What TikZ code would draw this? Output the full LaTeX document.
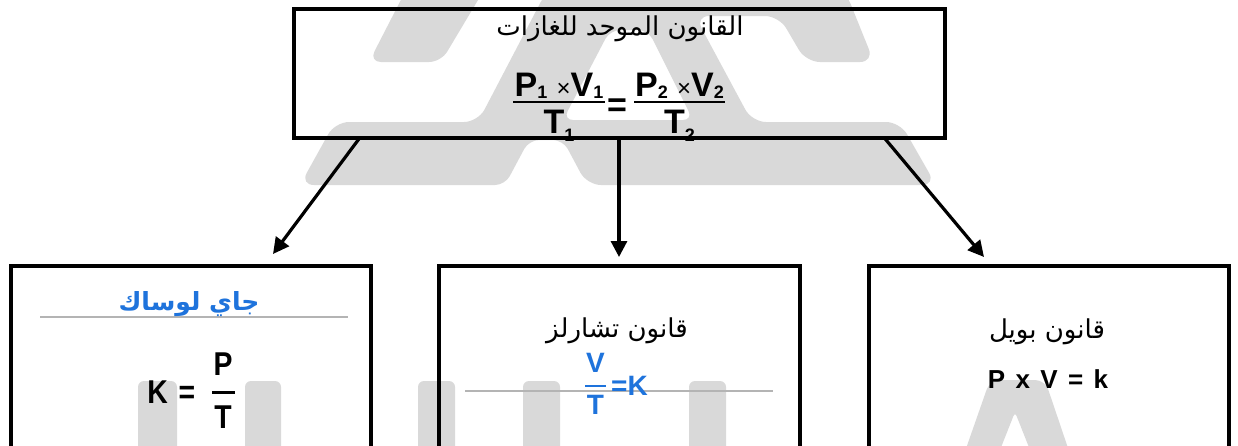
\documentclass[tikz,border=0pt]{standalone}
\usepackage{fontspec}
\usetikzlibrary{arrows.meta}
\TeXXeTstate=1
\newfontfamily\arabicfont[Script=Arabic]{DejaVu Sans}
\newfontfamily\lat{Liberation Sans}
\newfontfamily\latc[FakeStretch=0.86]{Liberation Sans}
\definecolor{wmgray}{RGB}{217,217,217}
\definecolor{blu}{RGB}{30,115,220}
\definecolor{rulegray}{RGB}{180,180,180}
\newcommand\sbs[2][18]{\raisebox{-2pt}{\fontsize{#1}{#1}\selectfont #2}}
\tikzset{
  box/.style={draw, line width=4pt, rectangle, inner sep=0pt, outer sep=0pt},
  arr/.style={line width=3.2pt, -{Triangle[length=16pt,width=16pt]}},
  wm/.style={fill=wmgray},
  artxt/.style={font=\arabicfont\fontsize{26}{30}\selectfont, anchor=base, inner sep=0pt},
  artb/.style={font=\arabicfont\bfseries\fontsize{25}{29}\selectfont, anchor=base, inner sep=0pt, text=blu},
  frac/.style={font=\lat\bfseries\fontsize{34}{38}\selectfont, anchor=base, inner sep=0pt},
  cond/.style={font=\latc\bfseries\fontsize{33}{36}\selectfont, anchor=base, inner sep=0pt},
  bluefr/.style={font=\lat\bfseries\fontsize{28}{32}\selectfont, anchor=base, inner sep=0pt, text=blu},
  fracbar/.style={line width=2.5pt},
  seprule/.style={line width=1.5pt, draw=rulegray}
}
\begin{document}
\begin{tikzpicture}[x=1pt,y=-1pt]
\useasboundingbox (0,0) rectangle (1238,445);
\clip (0,0) rectangle (1238,445);
\fill[white] (0,0) rectangle (1238,445);
% watermark
\fill[wm, rounded corners=12pt] (406,-10) -- (484,-10) -- (441,62) -- (369,62) -- cycle;
\fill[wm, even odd rule]
  [rounded corners=14pt] (547,-10) -- (845,-10) -- (874,62) -- (806,62) -- (779,16) -- (695,16) -- (752,122) -- (900,122) -- (936,185) -- (587,185)
  [rounded corners=10pt] -- (563,140) -- (529,140) -- (505,185)
  [rounded corners=14pt] -- (300,185) -- (335,122) -- (478,122) -- cycle
  [rounded corners=10pt] (563,120) -- (610,30) -- (648,30) -- (693,120) -- cycle;
\foreach \xa/\xb in {138/177, 245/281, 418/455, 523/560, 689/726}
  \fill[wm, rounded corners=6pt] (\xa,460) -- (\xa,381) -- (\xb,381) -- (\xb,460);
\fill[wm, rounded corners=10pt] (962,460) -- (990,380) -- (1045,380) -- (1072,460) -- (1034,460)
  [rounded corners=4pt] -- (1015,412) -- (996,460) -- cycle;
% boxes
\node[box, minimum width=651.5pt, minimum height=129pt] (top) at (619.25,73) {};
\node[box, minimum width=360.5pt, minimum height=200pt] (gay) at (190.75,365.5) {};
\node[box, minimum width=361.5pt, minimum height=200pt] (charles) at (619.25,365.5) {};
\node[box, minimum width=360pt, minimum height=200pt] (boyle) at (1049,365.5) {};
% top box content
\node[artxt] (title) at (620,35) {\beginR القانون الموحد للغازات\endR};
\node[frac] (num1) at (559,96) {P\sbs{1} {\mdseries\fontsize{24}{24}\selectfont ×}V\sbs{1}};
\node[frac] (den1) at (559,133) {T\sbs{\raisebox{-6pt}{1}}};
\node[frac] (eq) at (617,116) {=};
\node[frac] (num2) at (679.5,96) {P\sbs{2} {\mdseries\fontsize{24}{24}\selectfont ×}V\sbs{2}};
\node[frac] (den2) at (679.5,133) {T\sbs{\raisebox{-6pt}{2}}};
\coordinate (b1l) at (513,102); \coordinate (b1r) at (605,102);
\coordinate (b2l) at (634,102); \coordinate (b2r) at (725,102);
\draw[fracbar] (b1l) -- (b1r);
\draw[fracbar] (b2l) -- (b2r);
% arrows
\coordinate (s1) at (360,0); \coordinate (s2) at (619,0); \coordinate (s3) at (884,0);
\coordinate (t1) at (273,254); \coordinate (t2) at (619,257); \coordinate (t3) at (984,257);
\draw[arr] (top.south -| s1) -- (t1);
\draw[arr] (top.south -| s2) -- (t2);
\draw[arr] (top.south -| s3) -- (t3);
% left box: Gay-Lussac
\coordinate (r1l) at (40,317); \coordinate (r1r) at (348,317);
\draw[seprule] (r1l) -- (r1r);
\node[artb] (gayt) at (189,310) {\beginR جاي لوساك\endR};
\node[cond] (gk) at (157.5,403) {K};
\node[cond] (geq) at (187,403) {=};
\node[cond] (gp) at (223,375) {P};
\node[cond] (gt) at (223,428) {T};
\coordinate (g1) at (212,392); \coordinate (g2) at (235,392);
\draw[line width=3pt] (g1) -- (g2);
% middle box: Charles
\node[artxt] (chat) at (617,337) {\beginR قانون تشارلز\endR};
\coordinate (r2l) at (465,391); \coordinate (r2r) at (773,391);
\draw[seprule] (r2l) -- (r2r);
\node[bluefr] (cv) at (595.5,372) {V};
\node[bluefr] (ct) at (595.5,414) {T};
\coordinate (c1) at (585,386); \coordinate (c2) at (606,386);
\draw[line width=2.5pt, blu] (c1) -- (c2);
\node[bluefr, anchor=base west] (ck) at (611,395) {=K};
% right box: Boyle
\node[artxt] (boyt) at (1047,338) {\beginR قانون بويل\endR};
\node[font=\lat\bfseries\fontsize{26}{30}\selectfont, anchor=base, inner sep=0pt] (bf) at (1048,388) {\spaceskip=0.4em P x V = k};
\end{tikzpicture}
\end{document}
